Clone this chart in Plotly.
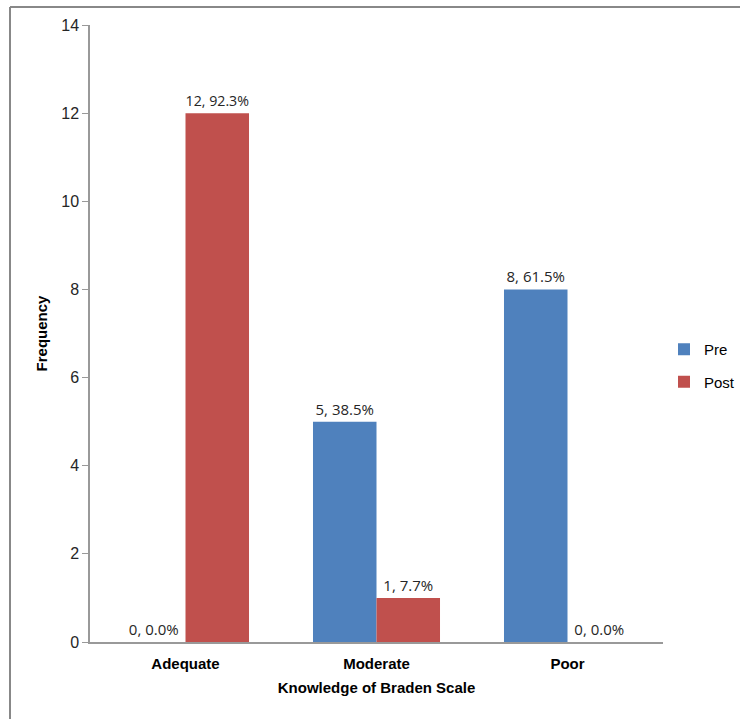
import plotly.graph_objects as go

categories = ["Adequate", "Moderate", "Poor"]
pre_values = [0, 5, 8]
post_values = [12, 1, 0]
pre_pct = ["0.0%", "38.5%", "61.5%"]
post_pct = ["92.3%", "7.7%", "0.0%"]

label_font = dict(family="Open Sans, Liberation Sans, sans-serif", size=15, color="#262626")

fig = go.Figure()
fig.add_trace(go.Bar(
    name="Pre", x=categories, y=pre_values, customdata=pre_pct, legendgroup="pre",
    marker=dict(color="#4F81BD", line=dict(width=0)),
    texttemplate="%{y}, %{customdata}", textposition="outside",
    textfont=label_font, cliponaxis=False,
))
fig.add_trace(go.Bar(
    name="Post", x=categories, y=post_values, customdata=post_pct, legendgroup="post",
    marker=dict(color="#C0504D", line=dict(width=0)),
    texttemplate="%{y}, %{customdata}", textposition="outside",
    textfont=label_font, cliponaxis=False,
))

W, H = 740, 719
L, R, T, B = 90, 77, 25, 77
pw, ph = W - L - R, H - T - B

def px2paper_x(px):
    return (px - L) / pw

def px2paper_y(py):
    return (H - B - py) / ph

fig.update_layout(
    width=W, height=H,
    margin=dict(l=L, r=R, t=T, b=B, autoexpand=False),
    paper_bgcolor="white", plot_bgcolor="white",
    barmode="group", bargap=0.335, bargroupgap=0,
    font=dict(family="Liberation Sans, Arial, sans-serif", color="#000000"),
    showlegend=True,
    legend=dict(
        x=px2paper_x(664), y=px2paper_y(333), xanchor="left", yanchor="top",
        font=dict(size=15, family="Liberation Sans, Arial, sans-serif"),
        bgcolor="rgba(0,0,0,0)", itemwidth=30, tracegroupgap=10,
    ),
    xaxis=dict(
        title=dict(text="<b>Knowledge of Braden Scale</b>", font=dict(size=15), standoff=12),
        tickfont=dict(size=15, family="Liberation Sans, Arial, sans-serif"),
        tickprefix="<b>", ticksuffix="</b>",
        ticklabelstandoff=7,
        showline=True, linecolor="#999999", linewidth=1.5,
        ticks="", showgrid=False, zeroline=False,
    ),
    yaxis=dict(
        title=dict(text="<b>Frequency</b>", font=dict(size=15), standoff=10),
        range=[0, 14], dtick=2,
        tickfont=dict(size=16, family="Liberation Sans, Arial, sans-serif", color="#262626"),
        showline=True, linecolor="#999999", linewidth=1.5,
        ticks="outside", ticklen=6, tickcolor="#999999",
        showgrid=False, zeroline=False,
    ),
    shapes=[
        dict(type="line", xref="paper", yref="paper",
             x0=px2paper_x(10), x1=px2paper_x(760), y0=px2paper_y(7), y1=px2paper_y(7),
             line=dict(color="#888888", width=2)),
        dict(type="line", xref="paper", yref="paper",
             x0=px2paper_x(10), x1=px2paper_x(10), y0=px2paper_y(7), y1=px2paper_y(740),
             line=dict(color="#888888", width=2)),
    ],
)

fig.write_html("out.html", config={"displayModeBar": False},
               post_script="document.body.style.margin='0';document.body.style.overflow='hidden';")
